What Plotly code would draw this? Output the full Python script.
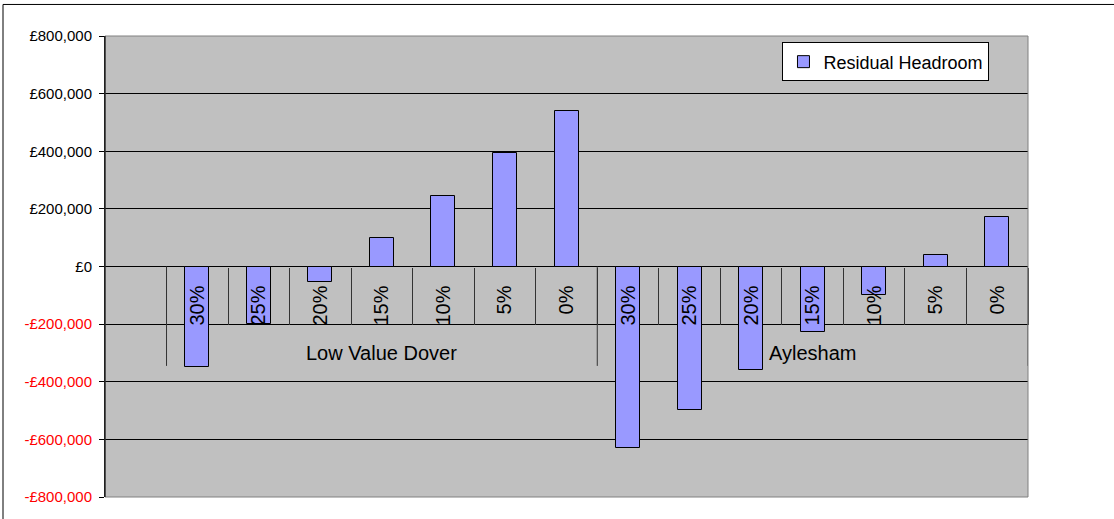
import plotly.graph_objects as go

# Affordable-housing rates tested for each site
rates = ["30%", "25%", "20%", "15%", "10%", "5%", "0%"]
sites = ["Low Value Dover", "Aylesham"]

# Residual headroom (GBP) per rate, per site
low_value_dover = [-350000, -200000, -55000, 98000, 246000, 394000, 540000]
aylesham = [-630000, -498000, -359000, -227000, -99000, 40000, 173000]

y_ticks = [800000, 600000, 400000, 200000, 0, -200000, -400000, -600000, -800000]

values = low_value_dover + aylesham
labels = rates + rates
n = len(values)
x_pos = [i + 0.5 for i in range(n)]

FONT = "Arial, Liberation Sans, sans-serif"


def money(v):
    s = f"£{abs(v):,}"
    if v < 0:
        return f"<span style='color:#FF0000'>-{s}</span>"
    return s


fig = go.Figure()
fig.add_trace(go.Bar(
    x=x_pos, y=values, width=0.39,
    name="Residual Headroom",
    marker=dict(color="#9999FF", line=dict(color="#000000", width=1)),
))

fig.update_layout(
    width=1114, height=519,
    margin=dict(l=105, r=86, t=36, b=22),
    paper_bgcolor="#FFFFFF",
    plot_bgcolor="#C0C0C0",
    font=dict(family=FONT, color="#000000"),
    showlegend=True,
    legend=dict(
        x=0.734, y=0.986, xanchor="left", yanchor="top",
        bgcolor="#FFFFFF", bordercolor="#000000", borderwidth=1,
        font=dict(size=18, family=FONT),
        itemwidth=30,
        tracegroupgap=0,
    ),
    bargap=0,
)

fig.update_yaxes(
    range=[-800000, 800000],
    tickvals=y_ticks,
    ticktext=[money(v) for v in y_ticks],
    tickfont=dict(size=15, family=FONT),
    ticks="outside", ticklen=5, tickcolor="#000000",
    ticklabelstandoff=4,
    showline=True, linecolor="#000000", linewidth=1,
    showgrid=True, gridcolor="#000000", gridwidth=1,
    zeroline=True, zerolinecolor="#000000", zerolinewidth=1,
    fixedrange=True,
)

fig.update_xaxes(
    range=[-1, n],
    anchor="free", position=0.5,
    tickvals=x_pos, ticktext=labels,
    tickangle=-90,
    tickfont=dict(size=20, family=FONT),
    ticks="", ticklabelstandoff=14,
    showgrid=False, zeroline=False, showline=False,
    minor=dict(tickvals=list(range(n + 1)), ticks="outside",
               ticklen=57, tickcolor="#333333", tickwidth=1),
    fixedrange=True,
)

# Group dividers and site names under the rate labels
per_site = len(rates)
for g, site in enumerate(sites):
    fig.add_annotation(
        x=g * per_site + per_site / 2, y=-300000, xref="x", yref="y",
        text=site, showarrow=False, yanchor="middle",
        font=dict(size=20, family=FONT, color="#000000"),
    )
for b in range(len(sites) + 1):
    fig.add_shape(
        type="line", xref="x", yref="y",
        x0=b * per_site, x1=b * per_site, y0=0, y1=-345000,
        line=dict(color="#333333", width=1), layer="above",
    )

# Plot-area outline
fig.add_shape(type="rect", xref="paper", yref="paper", x0=0, x1=1, y0=0, y1=1,
              line=dict(color="#808080", width=1), layer="above")
# Left axis line drawn over the outline
fig.add_shape(type="line", xref="paper", yref="paper", x0=0, x1=0, y0=0, y1=1,
              line=dict(color="#000000", width=1), layer="above")
# Chart frame
fig.add_shape(type="rect", xref="paper", yref="paper",
              x0=-0.1105, x1=1.0953, y0=-0.0608, y1=1.0684,
              line=dict(color="#000000", width=1), layer="above")

fig.write_html("out.html")
